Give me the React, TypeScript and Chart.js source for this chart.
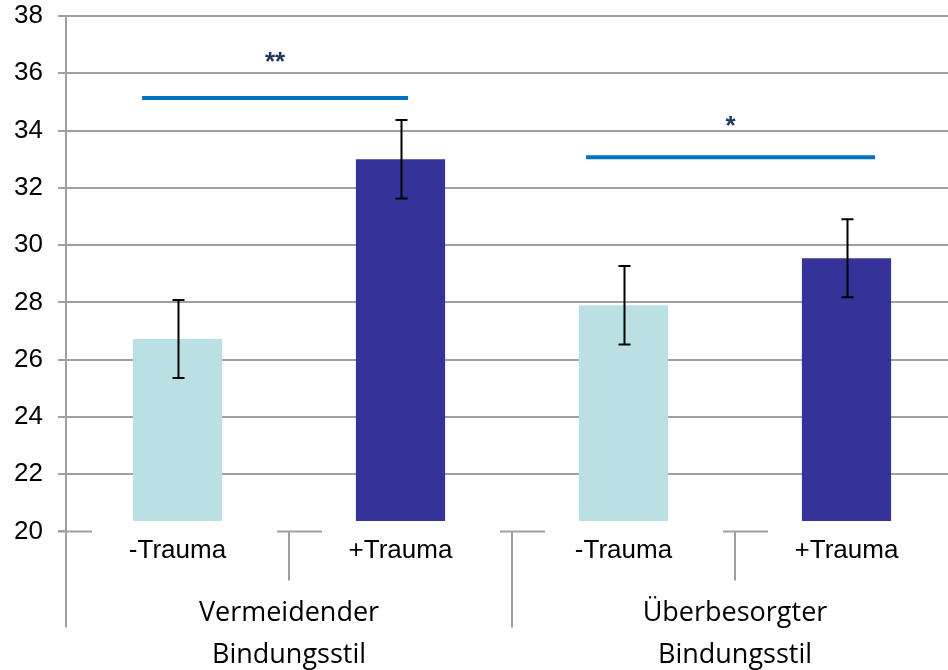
import { useEffect, useRef } from 'react';
import { Chart, registerables } from 'chart.js';

Chart.register(...registerables);

// ---- data ----
const categories = ['-Trauma', '+Trauma', '-Trauma', '+Trauma'];
const groupLabels = [
  ['Vermeidender', 'Bindungsstil'],
  ['Überbesorgter', 'Bindungsstil'],
];
const means = [26.72, 33.0, 27.9, 29.54];
const errors = [1.36, 1.37, 1.37, 1.36];
const barColors = ['#BBE0E3', '#353399', '#BBE0E3', '#353399'];
const barBase = 20.36;
const yTicks = [20, 22, 24, 26, 28, 30, 32, 34, 36, 38];

// significance brackets (x in category index units, y in data units)
const sigFrom = [-0.159, 1.832];
const sigTo = [1.034, 3.128];
const sigValue = [35.14, 33.07];
const sigLabels = ['**', '*'];
const sigLabelValue = [36.1, 33.87];

const GRID = '#A0A0A0';
const ARIAL = '"Liberation Sans", Arial, sans-serif';
const GROUPFONT = '"Open Sans", Lato, sans-serif';

export default function App() {
  const ref = useRef<HTMLCanvasElement>(null);

  useEffect(() => {
    document.body.style.margin = '0';
    const canvas = ref.current!;

    const overlay = {
      id: 'overlay',
      afterDatasetsDraw(chart: any) {
        const { ctx, scales } = chart;
        const x = scales.x;
        const y = scales.y;
        const bottom = y.getPixelForValue(20);
        const slot = x.getPixelForValue(1) - x.getPixelForValue(0);
        ctx.save();

        // error bars
        ctx.strokeStyle = '#000';
        ctx.lineWidth = 2;
        means.forEach((m, i) => {
          const cx = Math.round(x.getPixelForValue(i)) + 0.5;
          const yt = y.getPixelForValue(m + errors[i]);
          const yb = y.getPixelForValue(m - errors[i]);
          ctx.beginPath();
          ctx.moveTo(cx, yt);
          ctx.lineTo(cx, yb);
          ctx.moveTo(cx - 6, yt);
          ctx.lineTo(cx + 6, yt);
          ctx.moveTo(cx - 6, yb);
          ctx.lineTo(cx + 6, yb);
          ctx.stroke();
        });

        // significance lines
        ctx.strokeStyle = '#0070C0';
        ctx.lineWidth = 4;
        sigFrom.forEach((f, i) => {
          const yy = y.getPixelForValue(sigValue[i]);
          ctx.beginPath();
          ctx.moveTo(x.getPixelForValue(f), yy);
          ctx.lineTo(x.getPixelForValue(sigTo[i]), yy);
          ctx.stroke();
          ctx.fillStyle = '#1F3864';
          ctx.font = 'bold 26px ' + ARIAL;
          ctx.textAlign = 'center';
          ctx.textBaseline = 'alphabetic';
          const cx = (x.getPixelForValue(f) + x.getPixelForValue(sigTo[i])) / 2;
          ctx.fillText(sigLabels[i], cx, y.getPixelForValue(sigLabelValue[i]));
        });

        // x axis line segments, ticks
        ctx.strokeStyle = GRID;
        ctx.lineWidth = 2;
        const boundaries = [0, 1, 2, 3].map((i) => x.getPixelForValue(i) - slot / 2);
        boundaries.forEach((b, i) => {
          ctx.beginPath();
          ctx.moveTo(i === 0 ? b - 8 : b - 12, bottom);
          ctx.lineTo(b + (i === 0 ? 26 : 33), bottom);
          ctx.stroke();
          ctx.beginPath();
          ctx.moveTo(b, bottom);
          ctx.lineTo(b, bottom + (i % 2 === 0 ? 96 : 49));
          ctx.stroke();
        });

        // category labels
        ctx.fillStyle = '#000';
        ctx.font = '26px ' + ARIAL;
        ctx.textAlign = 'center';
        ctx.textBaseline = 'middle';
        categories.forEach((c, i) => {
          ctx.fillText(c, x.getPixelForValue(i), bottom + 19);
        });

        // group labels
        ctx.font = '27px ' + GROUPFONT;
        groupLabels.forEach((lines, g) => {
          const cx = x.getPixelForValue(g * 2 + 0.5);
          lines.forEach((ln, k) => {
            ctx.fillText(ln, cx, bottom + 82 + k * 42);
          });
        });

        ctx.restore();
      },
    };

    const chart = new Chart(canvas, {
      type: 'bar',
      data: {
        labels: categories,
        datasets: [
          {
            data: means,
            backgroundColor: barColors,
            base: barBase,
            categoryPercentage: 1,
            barPercentage: 0.4,
          } as any,
        ],
      },
      options: {
        responsive: false,
        animation: false,
        devicePixelRatio: 1,
        layout: { padding: { top: 16, bottom: 138.6, left: 0, right: 2 } },
        plugins: {
          legend: { display: false },
          tooltip: { enabled: false },
          title: { display: false },
        },
        scales: {
          x: { type: 'category', display: false, offset: true, grid: { display: false } },
          y: {
            type: 'linear',
            min: 20,
            max: 38,
            afterFit: (s: any) => {
              s.width = 66;
              s.paddingTop = 10;
              s.paddingBottom = 10;
            },
            afterBuildTicks: (s: any) => {
              s.ticks = yTicks.map((v) => ({ value: v }));
            },
            ticks: {
              color: '#000',
              font: { family: ARIAL, size: 26 },
              padding: 15,
            },
            grid: {
              color: (c: any) => (c.tick && c.tick.value === 20 ? 'rgba(0,0,0,0)' : GRID),
              tickColor: GRID,
              lineWidth: 2,
              tickLength: 8,
            },
            border: { display: true, color: GRID, width: 2 },
          },
        },
      },
      plugins: [overlay],
    });

    return () => chart.destroy();
  }, []);

  return (
    <div style={{ width: 948, height: 670, overflow: 'hidden' }}>
      <canvas ref={ref} width={960} height={670} style={{ width: 960, height: 670, display: 'block' }} />
    </div>
  );
}
